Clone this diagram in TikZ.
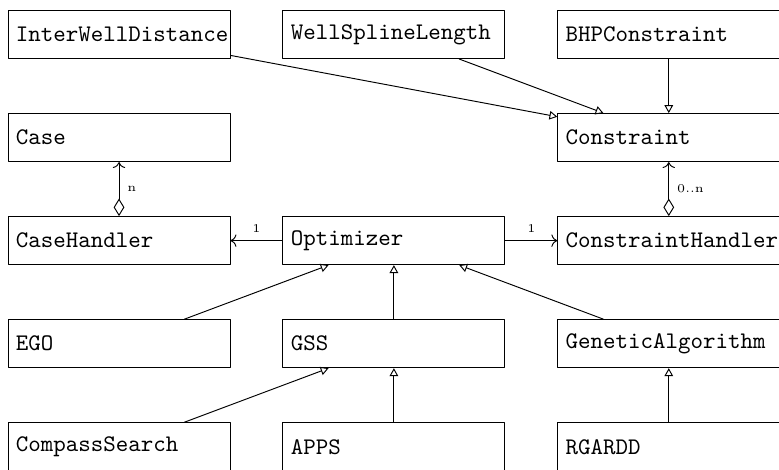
\documentclass[tikz,border=0pt]{standalone}
\usepackage{tikz}
\usetikzlibrary{arrows.meta}

\tikzset{
  klass/.style={draw, font=\ttfamily, minimum height=20.2pt,
    text width=86.6pt, align=left},
  inherit/.style={-{Triangle[open,length=3.3pt,width=3.6pt]}},
  aggr/.style={{Diamond[open,length=7.4pt,width=4.5pt]}->},
  mult/.style={font=\tiny}
}

\begin{document}
\begin{tikzpicture}[line cap=round,line join=round,x=115.5pt,y=43.3pt]
\useasboundingbox (-0.433,0.335) rectangle (2.401,-4.217);

%ylin rivi: rajoitteet
\node[klass] (iwd) at (0,0) {InterWellDistance};
\node[klass] (wsl) at (1,0) {WellSplineLength};
\node[klass] (bhp) at (2,0) {BHPConstraint};

\node[klass] (case) at (0,-1) {Case};
\node[klass] (con) at (2,-1) {Constraint};

%keskirivi
\node[klass] (chand) at (0,-2) {CaseHandler};
\node[klass] (opt) at (1,-2) {Optimizer};
\node[klass] (conh) at (2,-2) {ConstraintHandler};

%optimoijat
\node[klass] (ego) at (0,-3) {EGO};
\node[klass] (gss) at (1,-3) {GSS};
\node[klass] (ga) at (2,-3) {GeneticAlgorithm};

\node[klass] (cs) at (0,-4) {CompassSearch};
\node[klass] (apps) at (1,-4) {APPS};
\node[klass] (rgardd) at (2,-4) {RGARDD};

%periytyminen
\draw[inherit] (iwd) -- (con);
\draw[inherit] (wsl) -- (con);
\draw[inherit] (bhp) -- (con);
\draw[inherit] (ego) -- (opt);
\draw[inherit] (gss) -- (opt);
\draw[inherit] (ga) -- (opt);
\draw[inherit] (cs) -- (gss);
\draw[inherit] (apps) -- (gss);
\draw[inherit] (rgardd) -- (ga);

%kokoonpanot ja assosiaatiot
\draw[aggr] (chand) -- node[right,mult] {n} (case);
\draw[aggr] (conh) -- node[right,mult] {0..n} (con);
\draw[->] (opt) -- node[above,mult] {1} (chand);
\draw[->] (opt) -- node[above,mult] {1} (conh);
\end{tikzpicture}
\end{document}
